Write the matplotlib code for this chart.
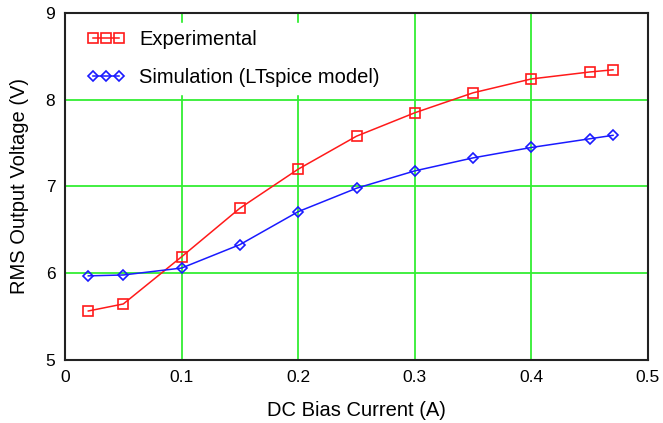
import matplotlib
matplotlib.use("Agg")
import matplotlib.pyplot as plt

plt.rcParams['font.family'] = ['Liberation Sans', 'DejaVu Sans']

bias_current = [0.02, 0.05, 0.10, 0.15, 0.20, 0.25, 0.30, 0.35, 0.40, 0.45, 0.47]
experimental = [5.565, 5.646, 6.19, 6.75, 7.20, 7.58, 7.85, 8.08, 8.24, 8.32, 8.345]
simulation = [5.97, 5.98, 6.06, 6.33, 6.71, 6.98, 7.18, 7.33, 7.45, 7.55, 7.59]

x_ticks = [0, 0.1, 0.2, 0.3, 0.4, 0.5]
x_tick_labels = ["0", "0.1", "0.2", "0.3", "0.4", "0.5"]
y_ticks = [5, 6, 7, 8, 9]
y_tick_labels = ["5", "6", "7", "8", "9"]

fig = plt.figure(figsize=(6.63, 4.23), dpi=100)
ax = fig.add_axes([65 / 663, 1 - 360 / 423, 583 / 663, 347 / 423])

ax.plot(bias_current, experimental, color='#ff1a1a', lw=1.1, marker='s',
        markersize=6.7, markerfacecolor='none', markeredgecolor='#ff1a1a',
        markeredgewidth=1.2, label='Experimental', zorder=3)
ax.plot(bias_current, simulation, color='#1a1aff', lw=1.1, marker='D',
        markersize=4.8, markerfacecolor='none', markeredgecolor='#1a1aff',
        markeredgewidth=1.2, label='Simulation (LTspice model)', zorder=3)

ax.set_xlim(0, 0.5)
ax.set_ylim(5, 9)
ax.set_xticks(x_ticks)
ax.set_xticklabels(x_tick_labels)
ax.set_yticks(y_ticks)
ax.set_yticklabels(y_tick_labels)
ax.tick_params(length=0, labelsize=12.5, pad=7)

for xv in x_ticks[1:-1]:
    ax.axvline(xv, color='#33ee33', lw=1.3, zorder=1)
for yv in y_ticks[1:-1]:
    ax.axhline(yv, color='#33ee33', lw=1.3, zorder=1)

for s in ax.spines.values():
    s.set_linewidth(1.5)
    s.set_color('#222222')
    s.set_zorder(4)

ax.set_xlabel('DC Bias Current (A)', fontsize=14.5, labelpad=12)
ax.set_ylabel('RMS Output Voltage (V)', fontsize=14.5, labelpad=12)

leg = ax.legend(loc='upper left', bbox_to_anchor=(5 / 583, 1.0), frameon=True,
                fontsize=14.5, numpoints=3, handlelength=1.9, handletextpad=0.7,
                labelspacing=0.95, borderpad=0.35, borderaxespad=0.5,
                markerscale=1.12)
leg.get_frame().set_edgecolor('white')
leg.get_frame().set_facecolor('white')
leg.get_frame().set_alpha(1.0)
leg.set_zorder(5)

fig.savefig('out.png', dpi=100)
